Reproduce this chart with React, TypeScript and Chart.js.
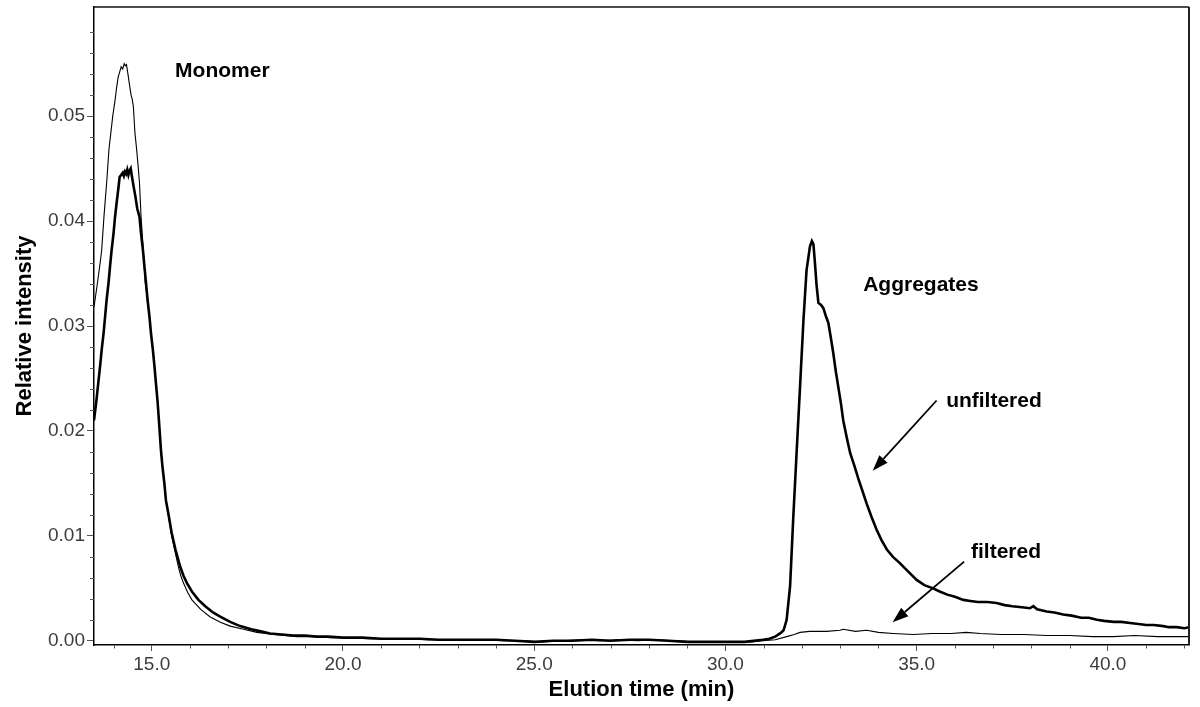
import React, { useEffect, useRef } from "react";
import { Chart, registerables } from "chart.js";

Chart.register(...registerables);

// ---- Data ----
const unfilteredTime = [
  13.49, 13.55, 13.6, 13.65, 13.69, 13.74, 13.78, 13.82, 13.87, 13.91, 13.95, 14.0, 14.04, 14.09,
  14.13, 14.16, 14.2, 14.24, 14.27, 14.3, 14.33, 14.36, 14.39, 14.42, 14.45, 14.48, 14.52, 14.57,
  14.62, 14.68, 14.72, 14.77, 14.81, 14.85, 14.89, 14.94, 14.98, 15.03, 15.07, 15.11, 15.15, 15.18,
  15.24, 15.28, 15.33, 15.37, 15.45, 15.52, 15.62, 15.74, 15.83, 15.92, 16.05, 16.22, 16.4, 16.6,
  16.79, 17.05, 17.31, 17.6, 17.85, 18.09, 18.4, 18.7, 19.0, 19.31, 19.6, 20.0, 20.5, 21.0, 21.5,
  22.0, 22.5, 23.0, 23.5, 24.0, 24.5, 25.0, 25.5, 26.0, 26.5, 27.0, 27.5, 28.0, 28.5, 29.0, 29.5,
  30.0, 30.5, 30.98, 31.15, 31.3, 31.43, 31.52, 31.6, 31.69, 31.77, 31.86, 31.95, 32.04, 32.12,
  32.21, 32.26, 32.3, 32.34, 32.38, 32.43, 32.5, 32.56, 32.62, 32.69, 32.75, 32.82, 32.88, 32.95,
  33.02, 33.08, 33.17, 33.26, 33.37, 33.47, 33.58, 33.69, 33.82, 33.95, 34.08, 34.22, 34.38,
  34.56, 34.78, 35.0, 35.2, 35.43, 35.6, 35.8, 36.0, 36.22, 36.4, 36.6, 36.85, 37.09, 37.3, 37.5,
  37.75, 37.96, 38.05, 38.15, 38.4, 38.6, 38.83, 39.05, 39.3, 39.5, 39.71, 39.9, 40.15, 40.35,
  40.58, 40.8, 41.0, 41.2, 41.45, 41.6, 41.8, 42.0, 42.12,
];
const unfilteredIntensity = [
  0.021, 0.0228, 0.0245, 0.0262, 0.0277, 0.0293, 0.0309, 0.0325, 0.0341, 0.0357, 0.0372, 0.0388,
  0.0404, 0.042, 0.0432, 0.0442, 0.0444, 0.0446, 0.0443, 0.0447, 0.0445, 0.0449, 0.0444, 0.0448,
  0.045, 0.0443, 0.0434, 0.0424, 0.0412, 0.0404, 0.0388, 0.0372, 0.0356, 0.0341, 0.0325, 0.0309,
  0.0293, 0.0277, 0.0262, 0.0245, 0.0229, 0.0214, 0.0182, 0.0166, 0.015, 0.0134, 0.0118, 0.0103,
  0.0087, 0.0071, 0.0062, 0.0055, 0.0047, 0.0039, 0.0033, 0.0027, 0.0023, 0.0018, 0.0014, 0.0011,
  0.0009, 0.0007, 0.0006, 0.0005, 0.0005, 0.0004, 0.0004, 0.0003, 0.0003, 0.0002, 0.0002, 0.0002,
  0.0001, 0.0001, 0.0001, 0.0001, 0.0, -0.0001, 0.0, 0.0, 0.0001, 0.0, 0.0001, 0.0001, 0.0,
  -0.0001, -0.0001, -0.0001, -0.0001, 0.0001, 0.0002, 0.0004, 0.0007, 0.001, 0.002, 0.0052,
  0.0115, 0.0179, 0.0242, 0.0306, 0.0353, 0.0376, 0.0381, 0.0378, 0.036, 0.034, 0.0322, 0.032,
  0.0317, 0.031, 0.0303, 0.029, 0.0274, 0.0258, 0.0242, 0.0226, 0.021, 0.0194, 0.0179, 0.0167,
  0.0155, 0.0143, 0.0131, 0.0118, 0.0106, 0.0096, 0.0087, 0.008, 0.0074, 0.0066, 0.0058, 0.0053,
  0.005, 0.0047, 0.0044, 0.0042, 0.0039, 0.0038, 0.0037, 0.0037, 0.0036, 0.0034, 0.0033, 0.0032,
  0.0031, 0.0033, 0.003, 0.0028, 0.0027, 0.0025, 0.0024, 0.0022, 0.0022, 0.002, 0.0019, 0.0018,
  0.0018, 0.0017, 0.0016, 0.0015, 0.0015, 0.0014, 0.0013, 0.0013, 0.0012, 0.0013,
];

const filteredTime = [
  13.49, 13.58, 13.65, 13.69, 13.75, 13.82, 13.88, 13.93, 13.98, 14.04, 14.08, 14.12, 14.16, 14.2,
  14.24, 14.28, 14.31, 14.34, 14.39, 14.43, 14.46, 14.49, 14.52, 14.56, 14.6, 14.64, 14.68, 14.72,
  14.78, 14.83, 14.89, 14.94, 14.98, 15.03, 15.07, 15.11, 15.15, 15.18, 15.24, 15.28, 15.33, 15.37,
  15.45, 15.52, 15.62, 15.7, 15.76, 15.83, 15.94, 16.05, 16.28, 16.52, 16.78, 17.05, 17.4, 17.75,
  18.2, 18.79, 19.3, 19.7, 20.2, 20.7, 21.2, 21.7, 22.2, 22.7, 23.2, 23.7, 24.2, 24.7, 25.2, 25.7,
  26.2, 26.7, 27.2, 27.7, 28.2, 28.7, 29.2, 29.7, 30.2, 30.7, 30.98, 31.3, 31.6, 31.8, 31.95, 32.2,
  32.64, 33.0, 33.08, 33.4, 33.69, 34.0, 34.38, 34.91, 35.4, 35.9, 36.3, 36.66, 37.2, 37.8, 38.4,
  39.0, 39.6, 40.14, 40.7, 41.3, 42.12,
];
const filteredIntensity = [
  0.0318, 0.0341, 0.036, 0.0372, 0.0404, 0.0436, 0.0468, 0.0484, 0.05, 0.0515, 0.0527, 0.0537,
  0.0542, 0.0547, 0.0545, 0.055, 0.0548, 0.0549, 0.0537, 0.0527, 0.052, 0.0516, 0.0509, 0.0484,
  0.047, 0.0454, 0.0436, 0.0404, 0.0372, 0.0341, 0.0325, 0.0309, 0.0293, 0.0277, 0.0262, 0.0245,
  0.0229, 0.0214, 0.0182, 0.0166, 0.015, 0.0134, 0.0116, 0.01, 0.0083, 0.007, 0.0062, 0.0055,
  0.0046, 0.0039, 0.003, 0.0023, 0.0018, 0.0014, 0.0011, 0.0008, 0.0006, 0.0004, 0.0004, 0.0003,
  0.0003, 0.0002, 0.0002, 0.0002, 0.0001, 0.0001, 0.0001, 0.0001, 0.0, 0.0, -0.0001, 0.0, 0.0001,
  0.0, 0.0001, 0.0, 0.0001, 0.0, -0.0001, -0.0001, -0.0001, -0.0001, 0.0, 0.0001, 0.0004, 0.0006,
  0.0008, 0.0009, 0.0009, 0.001, 0.0011, 0.0009, 0.001, 0.0008, 0.0007, 0.0006, 0.0007, 0.0007,
  0.0008, 0.0007, 0.0006, 0.0006, 0.0005, 0.0005, 0.0004, 0.0004, 0.0005, 0.0004, 0.0004,
];

const xMin = 13.49;
const xMax = 42.12;
const yMin = -0.0004;
const yMax = 0.0604;
const xTickValues = [15, 20, 25, 30, 35, 40];
const xMinorValues = [14, 16, 17, 18, 19, 21, 22, 23, 24, 26, 27, 28, 29, 31, 32, 33, 34, 36, 37, 38, 39, 41, 42];
const yTickValues = [0, 0.01, 0.02, 0.03, 0.04, 0.05];
const yMinorValues = [
  0.002, 0.004, 0.006, 0.008, 0.012, 0.014, 0.016, 0.018, 0.022, 0.024, 0.026, 0.028, 0.032, 0.034,
  0.036, 0.038, 0.042, 0.044, 0.046, 0.048, 0.052, 0.054, 0.056, 0.058,
];

const annotationTexts = ["Monomer", "Aggregates", "unfiltered", "filtered"];
const annotationTimes = [15.61, 33.6, 35.77, 36.42];
const annotationLevels = [0.0537, 0.0333, 0.0223, 0.0079];

const arrowFromTimes = [35.52, 36.24];
const arrowFromLevels = [0.0229, 0.00755];
const arrowToTimes = [33.85, 34.37];
const arrowToLevels = [0.0162, 0.00176];

const FONT = "'Liberation Sans', Arial, Helvetica, sans-serif";

const toPoints = (xs: number[], ys: number[]) => xs.map((x, i) => ({ x, y: ys[i] }));

const decorPlugin = {
  id: "decor",
  afterDraw(chart: any) {
    const { ctx, chartArea, scales } = chart;
    const xs = scales.x;
    const ys = scales.y;
    ctx.save();
    // frame top + right
    ctx.strokeStyle = "#111";
    ctx.lineWidth = 1.5;
    ctx.beginPath();
    ctx.moveTo(chartArea.left, chartArea.top);
    ctx.lineTo(chartArea.right, chartArea.top);
    ctx.stroke();
    ctx.lineWidth = 2;
    ctx.strokeStyle = "#222";
    ctx.beginPath();
    ctx.moveTo(chartArea.right, chartArea.top);
    ctx.lineTo(chartArea.right, chartArea.bottom);
    ctx.stroke();
    // minor ticks
    ctx.strokeStyle = "#555";
    ctx.lineWidth = 1;
    ctx.beginPath();
    yMinorValues.forEach((v) => {
      const py = Math.round(ys.getPixelForValue(v)) + 0.5;
      ctx.moveTo(chartArea.left - 4, py);
      ctx.lineTo(chartArea.left, py);
    });
    xMinorValues.forEach((v) => {
      const px = Math.round(xs.getPixelForValue(v)) + 0.5;
      ctx.moveTo(px, chartArea.bottom);
      ctx.lineTo(px, chartArea.bottom + 3.5);
    });
    ctx.stroke();
    // annotation texts
    ctx.fillStyle = "#000";
    ctx.font = `bold 21px ${FONT}`;
    ctx.textBaseline = "alphabetic";
    ctx.textAlign = "left";
    annotationTexts.forEach((t, i) => {
      ctx.fillText(t, xs.getPixelForValue(annotationTimes[i]), ys.getPixelForValue(annotationLevels[i]));
    });
    // arrows
    arrowFromTimes.forEach((_, i) => {
      const x1 = xs.getPixelForValue(arrowFromTimes[i]);
      const y1 = ys.getPixelForValue(arrowFromLevels[i]);
      const x2 = xs.getPixelForValue(arrowToTimes[i]);
      const y2 = ys.getPixelForValue(arrowToLevels[i]);
      const ang = Math.atan2(y2 - y1, x2 - x1);
      const headLen = 16;
      const headHalf = 5.5;
      const bx = x2 - headLen * Math.cos(ang);
      const by = y2 - headLen * Math.sin(ang);
      ctx.strokeStyle = "#000";
      ctx.lineWidth = 1.8;
      ctx.beginPath();
      ctx.moveTo(x1, y1);
      ctx.lineTo(bx, by);
      ctx.stroke();
      ctx.beginPath();
      ctx.moveTo(x2, y2);
      ctx.lineTo(bx + headHalf * Math.sin(ang), by - headHalf * Math.cos(ang));
      ctx.lineTo(bx - headHalf * Math.sin(ang), by + headHalf * Math.cos(ang));
      ctx.closePath();
      ctx.fill();
    });
    ctx.restore();
  },
};

export default function App() {
  const canvasRef = useRef<HTMLCanvasElement | null>(null);

  useEffect(() => {
    if (!canvasRef.current) return;
    const chart = new Chart(canvasRef.current, {
      type: "scatter",
      data: {
        datasets: [
          {
            label: "unfiltered",
            data: toPoints(unfilteredTime, unfilteredIntensity),
            showLine: true,
            borderColor: "#000",
            borderWidth: 2.6,
            pointRadius: 0,
            tension: 0,
          },
          {
            label: "filtered",
            data: toPoints(filteredTime, filteredIntensity),
            showLine: true,
            borderColor: "#000",
            borderWidth: 1.1,
            pointRadius: 0,
            tension: 0,
          },
        ],
      },
      options: {
        responsive: false,
        animation: false,
        devicePixelRatio: 1,
        layout: { padding: { top: 7, right: 11, bottom: 0, left: 0 } },
        plugins: {
          legend: { display: false },
          tooltip: { enabled: false },
        },
        scales: {
          x: {
            type: "linear",
            min: xMin,
            max: xMax,
            afterBuildTicks: (scale: any) => {
              scale.ticks = xTickValues.map((v) => ({ value: v }));
            },
            afterFit: (scale: any) => {
              scale.height = 62;
              scale.paddingLeft = 0;
              scale.paddingRight = 0;
            },
            ticks: {
              callback: (v: any) => Number(v).toFixed(1),
              font: { size: 19, family: FONT },
              color: "#3c3c3c",
              padding: 2,
              maxRotation: 0,
              autoSkip: false,
            },
            grid: {
              drawOnChartArea: false,
              drawTicks: true,
              tickLength: 6,
              tickColor: "#555",
            },
            border: { display: true, color: "#000", width: 1.5 },
            title: {
              display: true,
              text: "Elution time (min)",
              color: "#000",
              font: { size: 22, weight: "bold", family: FONT },
              padding: { top: 0, bottom: 4 },
            },
          },
          y: {
            type: "linear",
            min: yMin,
            max: yMax,
            afterBuildTicks: (scale: any) => {
              scale.ticks = yTickValues.map((v) => ({ value: v }));
            },
            afterFit: (scale: any) => {
              scale.width = 94;
              scale.paddingTop = 0;
              scale.paddingBottom = 0;
            },
            ticks: {
              callback: (v: any) => Number(v).toFixed(2),
              font: { size: 19, family: FONT },
              color: "#3c3c3c",
              padding: 2,
              autoSkip: false,
            },
            grid: {
              drawOnChartArea: false,
              drawTicks: true,
              tickLength: 7,
              tickColor: "#555",
            },
            border: { display: true, color: "#000", width: 1.5 },
            title: {
              display: true,
              text: "Relative intensity",
              color: "#000",
              font: { size: 22, weight: "bold", family: FONT },
              padding: { top: 12, bottom: 0 },
            },
          },
        },
      },
      plugins: [decorPlugin],
    } as any);
    return () => chart.destroy();
  }, []);

  return (
    <div style={{ position: "fixed", left: 0, top: 0, width: 1200, height: 707, background: "#fff" }}>
      <canvas ref={canvasRef} width={1200} height={707} style={{ display: "block" }} />
    </div>
  );
}
